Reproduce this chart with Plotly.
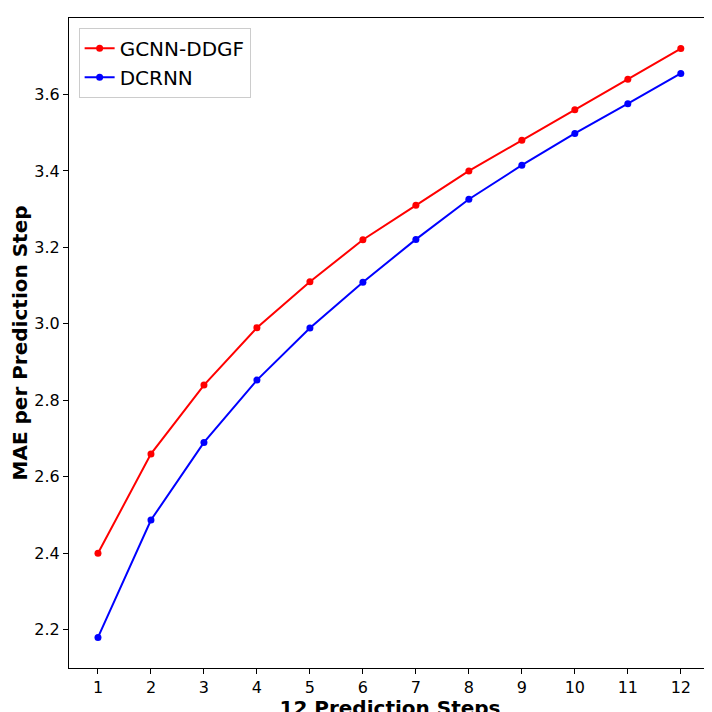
import plotly.graph_objects as go

steps = list(range(1, 13))
gcnn = [2.40, 2.66, 2.84, 2.99, 3.11, 3.22, 3.31, 3.40, 3.48, 3.56, 3.64, 3.72]
dcrnn = [2.18, 2.487, 2.69, 2.853, 2.989, 3.109, 3.221, 3.326, 3.415, 3.498, 3.576, 3.655]

fig = go.Figure()
fig.add_trace(go.Scatter(x=steps, y=gcnn, mode="lines+markers", name="GCNN-DDGF",
                         line=dict(color="red", width=2), marker=dict(size=7, color="red")))
fig.add_trace(go.Scatter(x=steps, y=dcrnn, mode="lines+markers", name="DCRNN",
                         line=dict(color="blue", width=2), marker=dict(size=7, color="blue")))
axis_common = dict(showgrid=False, zeroline=False, showline=True, linecolor="black", mirror=True,
                   ticks="outside", ticklen=5, tickcolor="black", automargin=False,
                   tickfont=dict(size=16, color="black"))
fig.update_layout(
    width=712, height=712, plot_bgcolor="white", paper_bgcolor="white",
    font=dict(family="DejaVu Sans", color="black"),
    margin=dict(l=61, r=9, t=10, b=52),
    xaxis=dict(range=[0.453, 12.57], tickvals=steps, **axis_common,
               title=dict(text="<b>12 Prediction Steps</b>", font=dict(size=20), standoff=2)),
    yaxis=dict(range=[2.10, 3.80], tickvals=[2.2, 2.4, 2.6, 2.8, 3.0, 3.2, 3.4, 3.6],
               tickformat=".1f", **axis_common,
               title=dict(text="<b>MAE per Prediction Step</b>", font=dict(size=20), standoff=6)),
    legend=dict(x=0.015, y=0.985, xanchor="left", yanchor="top", bordercolor="#cccccc",
                borderwidth=1, font=dict(size=20), bgcolor="white"),
)
fig.write_html("out.html")
